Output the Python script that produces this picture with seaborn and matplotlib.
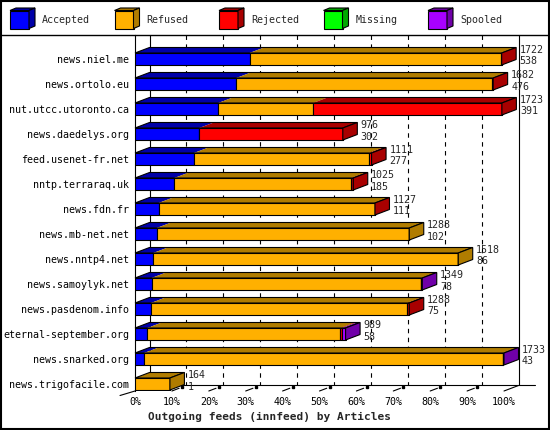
"""
Outgoing feeds (innfeed) by Articles, drawn as the 3D style
stacked bar chart that innreport produces.
"""
import numpy as np
import matplotlib
matplotlib.use("Agg")
import matplotlib.pyplot as plt
from matplotlib.patches import Polygon, Rectangle
import seaborn as sns

# values
hosts = ["news.niel.me", "news.ortolo.eu", "nut.utcc.utoronto.ca",
         "news.daedelys.org", "feed.usenet-fr.net", "nntp.terraraq.uk",
         "news.fdn.fr", "news.mb-net.net", "news.nntp4.net",
         "news.samoylyk.net", "news.pasdenom.info", "eternal-september.org",
         "news.snarked.org", "news.trigofacile.com"]
totals = [1722, 1682, 1723, 976, 1111, 1025, 1127, 1288, 1518, 1349, 1288, 989, 1733, 164]
accepted = [538, 476, 391, 302, 277, 185, 111, 102, 86, 78, 75, 58, 43, 1]
refused = [1180, 1200, 445, 0, 820, 830, 1014, 1186, 1432, 1266, 1203, 907, 1685, 163]
rejected = [4, 6, 887, 674, 14, 10, 2, 0, 0, 1, 10, 8, 1, 0]
missing = [0, 0, 0, 0, 0, 0, 0, 0, 0, 0, 0, 0, 0, 0]
spooled = [0, 0, 0, 0, 0, 0, 0, 0, 0, 4, 0, 16, 4, 0]

categories = ["Accepted", "Refused", "Rejected", "Missing", "Spooled"]
face_colors = ["#0000ff", "#ffb000", "#ff0000", "#00ff00", "#a800ff"]
dark_colors = ["#0000a8", "#b07c00", "#a80000", "#00a800", "#7000a8"]
tick_labels = [f"{p}%" for p in range(0, 101, 10)]

# layout in pixels
W, H = 550, 430
X0, X1 = 135, 504      # front floor, left and right
Y0, Y1 = 35, 391       # top of plot, front floor
DXP, DYP = 14.5, 5.5   # depth of the 3D effect
ROW0, ROWH = 59, 25    # first row centre, row pitch
BAR_W = 0.48


def main():
    sns.set_style("white")
    plt.rcParams["font.family"] = ["DejaVu Sans Mono"]
    fig = plt.figure(figsize=(W / 100, H / 100), dpi=100)
    ax = fig.add_axes([X0 / W, 1 - Y1 / H, (X1 - X0) / W, (Y1 - Y0) / H])
    ax.set_facecolor("none")

    xmax = max(totals)
    ylo = (Y0 - ROW0) / ROWH
    yhi = (Y1 - ROW0) / ROWH
    px = xmax / (X1 - X0)   # data units per pixel
    py = 1 / ROWH
    dx, dy = DXP * px, DYP * py
    half = BAR_W / 2

    series = [np.array(s, dtype=float) for s in (accepted, refused, rejected, missing, spooled)]
    lefts = np.cumsum([np.zeros(len(hosts))] + series[:-1], axis=0)

    # front faces of the stacked bars
    for c, vals in enumerate(series):
        sns.barplot(x=vals, y=hosts, left=lefts[c], orient="y", color=face_colors[c],
                    saturation=1, width=BAR_W, errorbar=None, edgecolor="black",
                    linewidth=0.8, zorder=3, ax=ax)

    # top and side faces, value labels
    for i in range(len(hosts)):
        end = lefts[-1][i] + series[-1][i]
        last = 0
        for c, vals in enumerate(series):
            v = vals[i]
            if v <= 0:
                continue
            last = c
            l = lefts[c][i]
            top = i - half
            ax.add_patch(Polygon([(l, top), (l + v, top), (l + v + dx, top - dy), (l + dx, top - dy)],
                                 closed=True, fc=dark_colors[c], lw=0, zorder=3, clip_on=False))
        top, bot = i - half, i + half
        ax.add_patch(Polygon([(0, top), (end, top), (end + dx, top - dy), (dx, top - dy)],
                             closed=True, fill=False, ec="black", lw=0.8, zorder=4, clip_on=False))
        ax.add_patch(Polygon([(end, top), (end + dx, top - dy), (end + dx, bot - dy), (end, bot)],
                             closed=True, fc=dark_colors[last], ec="black", lw=0.8, zorder=4,
                             clip_on=False))
        ax.annotate(str(totals[i]), (end, i), xytext=(18, 9), textcoords="offset pixels",
                    va="center", ha="left", fontsize=7.2, annotation_clip=False)
        ax.annotate(str(accepted[i]), (end, i), xytext=(18, -2.5), textcoords="offset pixels",
                    va="center", ha="left", fontsize=7.2, annotation_clip=False)

    # back wall and floor
    xt = np.linspace(0, xmax, 11)
    back_y = yhi - dy
    for k in range(1, 10):
        ax.plot([xt[k] + dx] * 2, [ylo, back_y], color="black", lw=0.8,
                ls=(0, (4, 4)), zorder=1, clip_on=False)
        ax.plot([xt[k], xt[k] + 0.5 * dx], [yhi, yhi - 0.5 * dy], color="black",
                lw=0.8, zorder=1, clip_on=False)
        ax.plot([xt[k] + 0.7 * dx], [yhi - 0.7 * dy], marker="s", ms=2, color="black",
                zorder=1, clip_on=False)
    ax.plot([dx, dx], [ylo, back_y], color="black", lw=0.8, zorder=1, clip_on=False)
    ax.plot([xmax + dx] * 2, [ylo, back_y], color="black", lw=0.8, zorder=1, clip_on=False)
    ax.plot([dx, 400 * px], [back_y, back_y], color="black", lw=0.8, zorder=1, clip_on=False)
    ax.plot([xmax, xmax + dx], [yhi, back_y], color="black", lw=0.8, zorder=1, clip_on=False)
    ax.plot([-15 * px, 0], [yhi + 4.5 * py, yhi], color="black", lw=0.8, zorder=1, clip_on=False)

    ax.set_xlim(0, xmax)
    ax.set_ylim(yhi, ylo)
    ax.set_xticks(xt)
    ax.set_xticklabels(tick_labels)
    ax.set_xlabel("")
    ax.set_ylabel("")
    ax.tick_params(axis="both", length=0, labelsize=7.2, colors="black")
    ax.tick_params(axis="x", pad=4)
    ax.tick_params(axis="y", pad=4)
    for side in ("top", "right", "bottom"):
        ax.spines[side].set_visible(False)
    ax.spines["left"].set_color("black")
    ax.spines["left"].set_linewidth(0.8)

    # legend, frame and title in pixel coordinates
    ov = fig.add_axes([0, 0, 1, 1])
    ov.set_xlim(0, W)
    ov.set_ylim(H, 0)
    ov.axis("off")
    for j, name in enumerate(categories):
        x0 = 10 + 104.5 * j
        ov.add_patch(Rectangle((x0, 10.5), 19, 18, fc=face_colors[j], ec="black", lw=0.8))
        ov.add_patch(Polygon([(x0, 10.5), (x0 + 19, 10.5), (x0 + 25, 8), (x0 + 6, 8)],
                             closed=True, fc=dark_colors[j], ec="black", lw=0.8))
        ov.add_patch(Polygon([(x0 + 19, 10.5), (x0 + 25, 8), (x0 + 25, 26), (x0 + 19, 28.5)],
                             closed=True, fc=dark_colors[j], ec="black", lw=0.8))
        ov.text(x0 + 32, 20, name, va="center", ha="left", fontsize=7.2)
    ov.plot([0, W], [35, 35], color="black", lw=1)
    ov.add_patch(Rectangle((1, 1), W - 2.5, H - 2.5, fill=False, ec="black", lw=1.5))
    ov.text(148, 417, "Outgoing feeds (innfeed) by Articles", va="center", ha="left",
            fontsize=8, fontweight="bold")

    fig.savefig("out.png", dpi=100)


if __name__ == "__main__":
    main()
